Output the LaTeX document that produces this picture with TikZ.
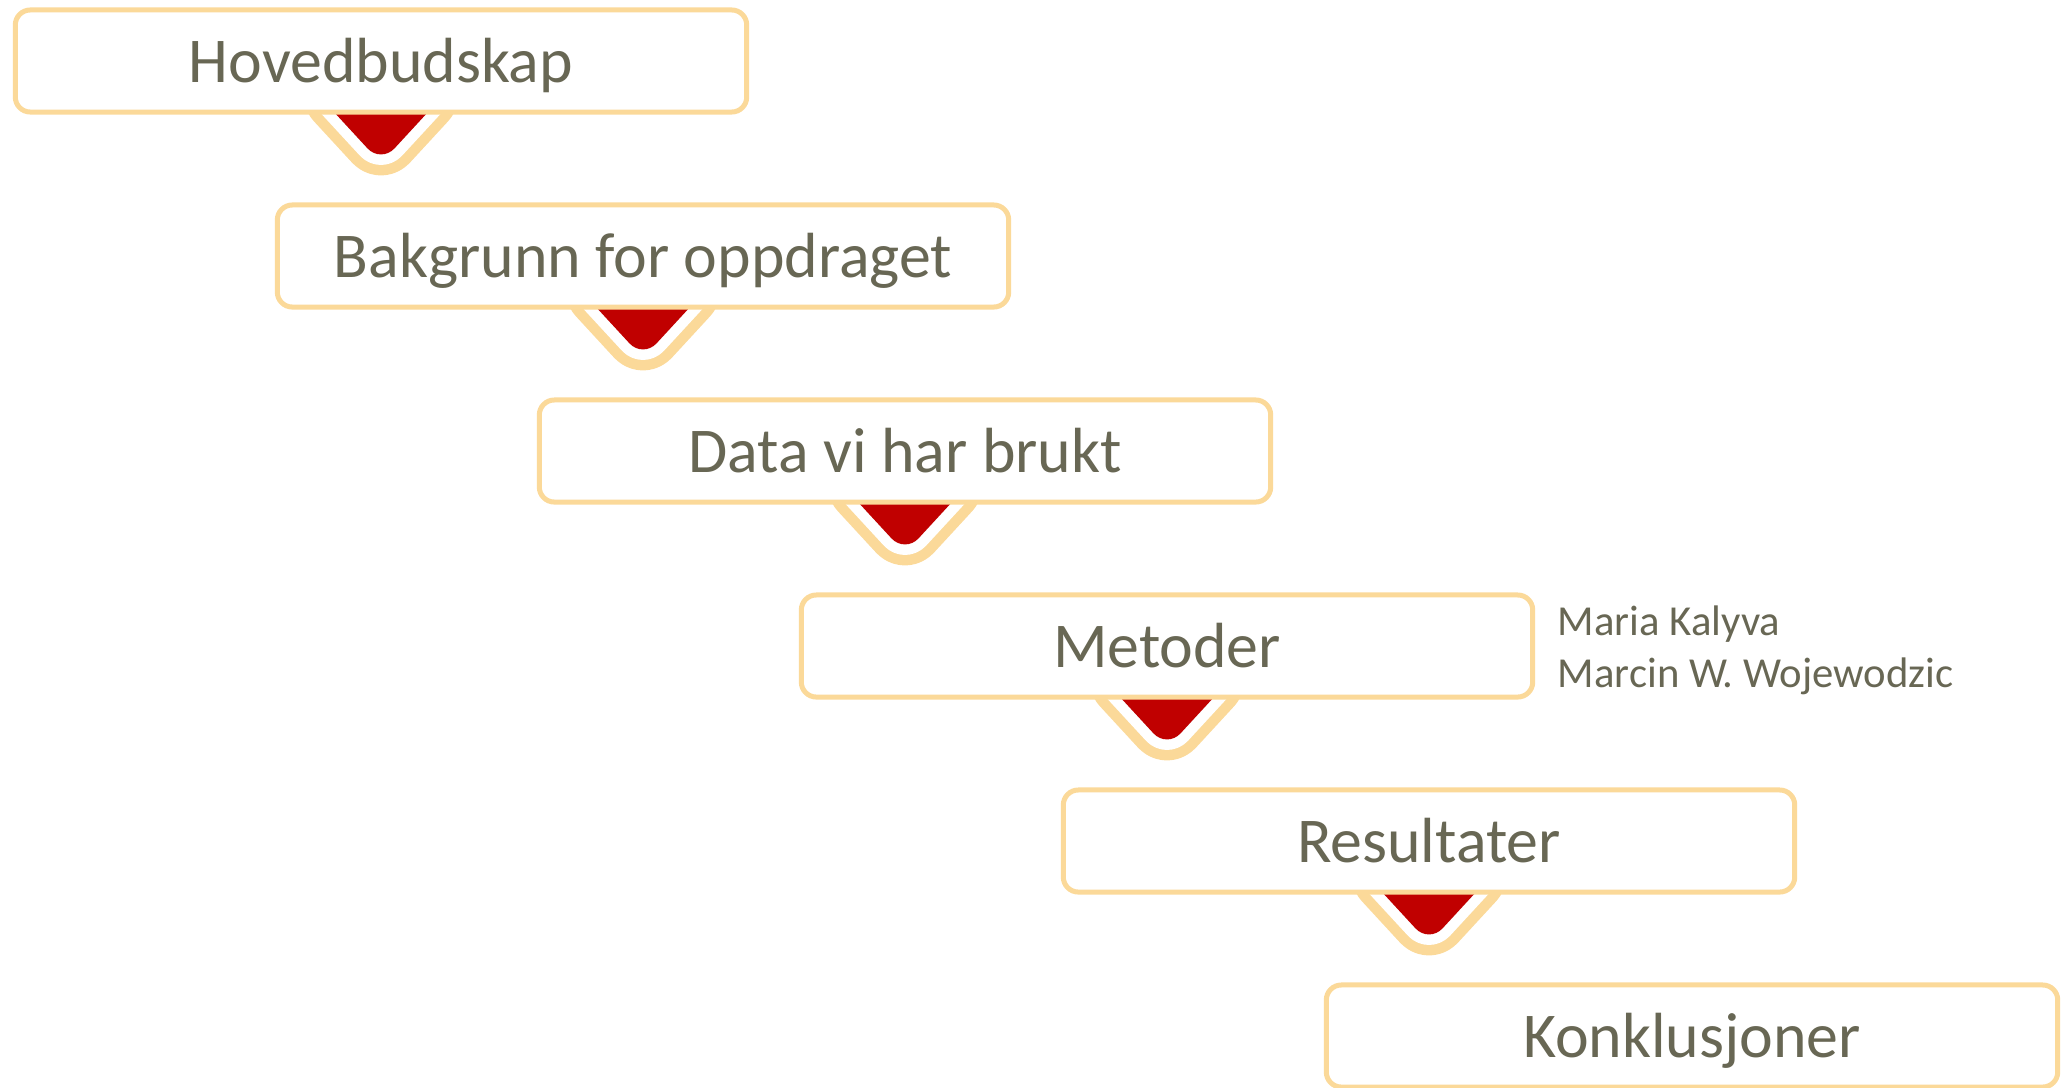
\documentclass[tikz,border=0pt]{standalone}
\usepackage{fontspec}
\setmainfont{Carlito}
\usetikzlibrary{calc,positioning,backgrounds}

\definecolor{gul}{RGB}{251,217,153}
\definecolor{rod}{RGB}{192,0,0}
\definecolor{tekst}{RGB}{104,103,84}

\tikzset{
  trinn/.style={draw=gul, line width=0.05cm, fill=white, rounded corners=0.15cm,
    minimum width=7.31cm, minimum height=1.02cm, inner sep=0pt,
    text height=15pt, text depth=3pt,
    text=tekst, font=\fontsize{18.15}{20}\selectfont},
  pil/.style={draw=gul, line width=0.42cm, line join=round, rounded corners=0.2cm,
    postaction={draw=white, line width=0.21cm},
    postaction={fill=rod}},
  navn/.style={inner sep=0pt, align=left, text=tekst,
    font=\fontsize{12.15}{14.8}\selectfont}
}

\begin{document}
\begin{tikzpicture}[x=0.01cm, y=-0.01cm]
            \useasboundingbox (0,0) rectangle (2061,1087);
            % boksene
            \node [trinn] (b1) at (381,61) {Hovedbudskap};
            \node [trinn] (b2) at (643,256) {Bakgrunn for oppdraget};
            \node [trinn] (b3) at (905,451) {Data vi har brukt};
            \node [trinn] (b4) at (1167,646) {Metoder};
            \node [trinn] (b5) at (1429,841) {Resultater};
            \node [trinn] (b6) at (1692,1036) {Konklusjoner};
            \node [navn, right=0.22cm of b4, yshift=-0.04cm] (forf) {Maria Kalyva\\Marcin W. Wojewodzic};
            % pilene under boksene
            \begin{scope}[on background layer]
            \draw [pil] ($(b1.south)+(-65,-22)$) -- ($(b1.south)+(65,-22)$) -- ($(b1.south)+(0,48.5)$) -- cycle;
            \draw [pil] ($(b2.south)+(-65,-22)$) -- ($(b2.south)+(65,-22)$) -- ($(b2.south)+(0,48.5)$) -- cycle;
            \draw [pil] ($(b3.south)+(-65,-22)$) -- ($(b3.south)+(65,-22)$) -- ($(b3.south)+(0,48.5)$) -- cycle;
            \draw [pil] ($(b4.south)+(-65,-22)$) -- ($(b4.south)+(65,-22)$) -- ($(b4.south)+(0,48.5)$) -- cycle;
            \draw [pil] ($(b5.south)+(-65,-22)$) -- ($(b5.south)+(65,-22)$) -- ($(b5.south)+(0,48.5)$) -- cycle;
            \end{scope}
        \end{tikzpicture}
\end{document}
